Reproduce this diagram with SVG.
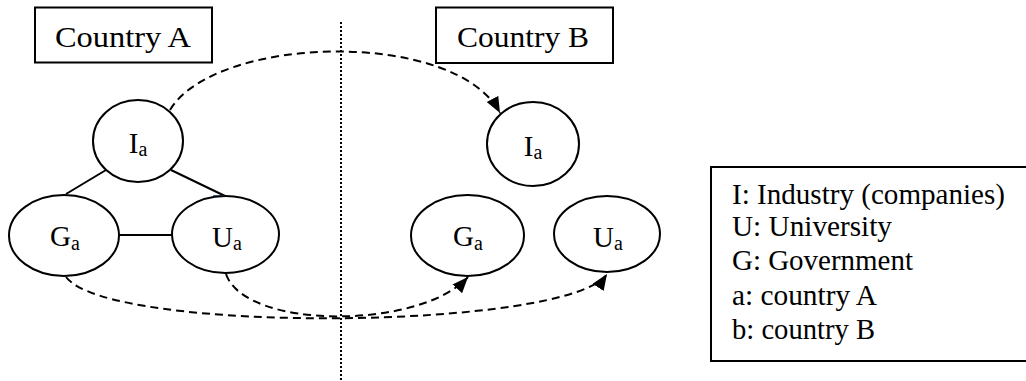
<svg xmlns="http://www.w3.org/2000/svg" width="1026" height="381" viewBox="0 0 1026 381">
<style>
.box{fill:#fff;stroke:#000;stroke-width:2}
.node{fill:#fff;stroke:#000;stroke-width:2}
.t{font-family:"Liberation Serif","Times New Roman",serif;font-size:29px;fill:#000}
.nl{font-family:"Liberation Serif","Times New Roman",serif;font-size:29px;fill:#000;text-anchor:middle}
.sub{font-size:20px}
.link{stroke:#000;stroke-width:2;fill:none}
.dash{stroke:#000;stroke-width:2;fill:none;stroke-dasharray:8 5}
.dot{stroke:#000;stroke-width:2;fill:none;stroke-dasharray:2 2}
</style>
<defs>
<marker id="arr" markerUnits="userSpaceOnUse" markerWidth="18" markerHeight="14" refX="16" refY="6.5" orient="auto">
<path d="M0,0 L16,6.5 L0,13 z" fill="#000"/>
</marker>
</defs>
<rect width="1026" height="381" fill="#fff"/>
<line class="dot" x1="341" y1="22" x2="341" y2="381"/>
<g id="labelA">
<rect class="box" x="35" y="7.5" width="177" height="55"/>
<text class="t" x="55" y="47" textLength="136" lengthAdjust="spacingAndGlyphs">Country A</text>
</g>
<g id="labelB">
<rect class="box" x="436" y="7.5" width="177" height="55.5"/>
<text class="t" x="457" y="47" textLength="132" lengthAdjust="spacingAndGlyphs">Country B</text>
</g>
<g id="connectors">
<line class="link" x1="106" y1="170" x2="66" y2="194"/>
<line class="link" x1="171" y1="170" x2="225" y2="196"/>
<line class="link" x1="119" y1="235" x2="172" y2="235"/>
<line x1="213" y1="196" x2="225" y2="196" stroke="#4a7ebb" stroke-width="2"/>
<path class="dash" d="M170,110 C215,35 455,28 500,113" marker-end="url(#arr)"/>
<path class="dash" d="M66,277 C110,335 570,330 607,274" marker-end="url(#arr)"/>
<path class="dash" d="M226,274 C245,330 420,330 468,277" marker-end="url(#arr)"/>
</g>
<g id="IaA">
<ellipse class="node" cx="138" cy="141" rx="45" ry="41"/>
<text class="nl" x="138" y="153">I<tspan class="sub" dy="3">a</tspan></text>
</g>
<g id="GaA">
<ellipse class="node" cx="64" cy="235.5" rx="55" ry="40.5"/>
<text class="nl" x="65" y="246">G<tspan class="sub" dy="4">a</tspan></text>
</g>
<g id="UaA">
<ellipse class="node" cx="225.5" cy="234.5" rx="53.5" ry="38.5"/>
<text class="nl" x="227" y="247">U<tspan class="sub" dy="3">a</tspan></text>
</g>
<g id="IaB">
<ellipse class="node" cx="533" cy="144" rx="46" ry="42"/>
<text class="nl" x="533" y="156">I<tspan class="sub" dy="3">a</tspan></text>
</g>
<g id="GaB">
<ellipse class="node" cx="467.5" cy="235.5" rx="56.5" ry="40.5"/>
<text class="nl" x="468" y="246">G<tspan class="sub" dy="4">a</tspan></text>
</g>
<g id="UaB">
<ellipse class="node" cx="607" cy="234" rx="53" ry="38"/>
<text class="nl" x="608" y="247">U<tspan class="sub" dy="3">a</tspan></text>
</g>
<g id="legend">
<rect class="box" x="711" y="167" width="330" height="194"/>
<text class="t" x="732" y="204" textLength="273" lengthAdjust="spacingAndGlyphs">I: Industry (companies)</text>
<text class="t" x="732" y="236" textLength="160" lengthAdjust="spacingAndGlyphs">U: University</text>
<text class="t" x="732" y="270" textLength="181" lengthAdjust="spacingAndGlyphs">G: Government</text>
<text class="t" x="732" y="305" textLength="145" lengthAdjust="spacingAndGlyphs">a: country A</text>
<text class="t" x="732" y="339" textLength="143" lengthAdjust="spacingAndGlyphs">b: country B</text>
</g>
</svg>
